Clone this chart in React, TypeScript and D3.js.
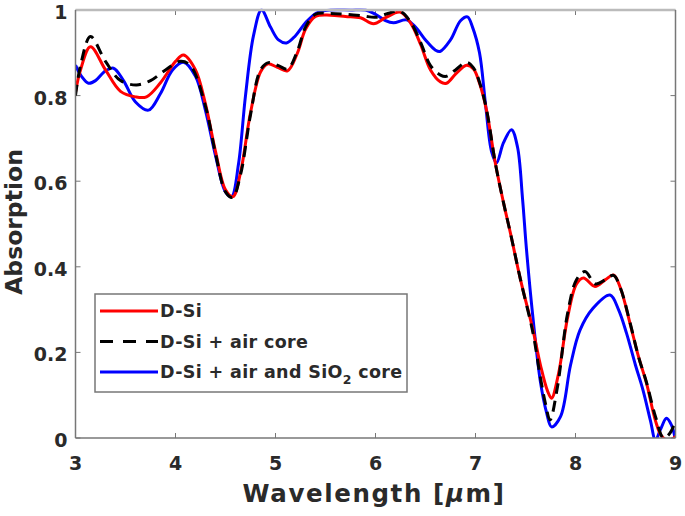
import React from "react";
import * as d3 from "d3";

const xTicks = [3, 4, 5, 6, 7, 8, 9];
const yTicks = [0, 0.2, 0.4, 0.6, 0.8, 1];
const yTickLabels = ["0", "0.2", "0.4", "0.6", "0.8", "1"];

const redX = [3.0, 3.05, 3.15, 3.3, 3.45, 3.6, 3.71, 3.85, 4.0, 4.08, 4.2, 4.3, 4.4, 4.5, 4.575, 4.65, 4.75, 4.85, 4.92, 5.02, 5.12, 5.22, 5.3, 5.4, 5.55, 5.7, 5.85, 5.98, 6.1, 6.245, 6.35, 6.45, 6.55, 6.65, 6.71, 6.8, 6.91, 6.98, 7.045, 7.11, 7.2, 7.28, 7.35, 7.45, 7.575, 7.65, 7.72, 7.76, 7.83, 7.92, 8.01, 8.08, 8.195, 8.3, 8.38, 8.45, 8.545, 8.63, 8.71, 8.8, 8.86, 8.93, 9.0];
const redY = [0.808, 0.86, 0.914, 0.86, 0.81, 0.797, 0.797, 0.83, 0.88, 0.895, 0.86, 0.78, 0.67, 0.58, 0.564, 0.62, 0.76, 0.855, 0.874, 0.866, 0.858, 0.9, 0.955, 0.985, 0.988, 0.985, 0.982, 0.968, 0.982, 0.995, 0.97, 0.92, 0.86, 0.832, 0.829, 0.85, 0.871, 0.862, 0.825, 0.766, 0.64, 0.55, 0.478, 0.37, 0.252, 0.17, 0.11, 0.093, 0.15, 0.28, 0.36, 0.374, 0.354, 0.37, 0.381, 0.35, 0.268, 0.19, 0.128, 0.04, 0.005, -0.006, 0.004];

const blackX = [3.0, 3.05, 3.15, 3.3, 3.45, 3.61, 3.75, 3.9, 4.05, 4.15, 4.3, 4.4, 4.5, 4.57, 4.65, 4.75, 4.85, 4.93, 5.03, 5.12, 5.22, 5.3, 5.4, 5.55, 5.7, 5.88, 6.0, 6.1, 6.245, 6.35, 6.45, 6.55, 6.65, 6.71, 6.8, 6.91, 6.98, 7.045, 7.11, 7.2, 7.28, 7.35, 7.45, 7.575, 7.65, 7.7, 7.745, 7.82, 7.92, 8.01, 8.095, 8.2, 8.3, 8.38, 8.45, 8.545, 8.63, 8.71, 8.8, 8.88, 8.94, 9.0];
const blackY = [0.8, 0.87, 0.938, 0.88, 0.835, 0.825, 0.835, 0.86, 0.88, 0.87, 0.775, 0.665, 0.575, 0.562, 0.615, 0.755, 0.86, 0.877, 0.87, 0.862, 0.905, 0.96, 0.99, 0.992, 0.99, 0.986, 0.983, 0.99, 0.997, 0.972, 0.925, 0.87, 0.848, 0.845, 0.86, 0.878, 0.865, 0.828, 0.768, 0.64, 0.55, 0.478, 0.37, 0.245, 0.14, 0.08, 0.042, 0.12, 0.29, 0.37, 0.389, 0.36, 0.37, 0.38, 0.35, 0.27, 0.19, 0.13, 0.05, 0.0, 0.01, 0.038];

const blueX = [3.0, 3.06, 3.13, 3.2, 3.3, 3.38, 3.48, 3.6, 3.73, 3.85, 3.97, 4.08, 4.2, 4.3, 4.4, 4.5, 4.56, 4.63, 4.7, 4.78, 4.86, 4.95, 5.03, 5.11, 5.2, 5.3, 5.41, 5.55, 5.75, 5.9, 6.0, 6.1, 6.18, 6.31, 6.4, 6.5, 6.6, 6.645, 6.75, 6.85, 6.92, 6.97, 7.04, 7.1, 7.16, 7.21, 7.28, 7.36, 7.42, 7.47, 7.51, 7.575, 7.65, 7.71, 7.76, 7.85, 7.95, 8.045, 8.175, 8.345, 8.43, 8.51, 8.6, 8.675, 8.75, 8.8, 8.85, 8.91, 8.96, 9.0];
const blueY = [0.871, 0.845, 0.829, 0.835, 0.858, 0.864, 0.835, 0.785, 0.766, 0.805, 0.86, 0.878, 0.845, 0.765, 0.66, 0.575, 0.564, 0.64, 0.8, 0.94, 1.0, 0.96, 0.93, 0.923, 0.94, 0.97, 0.993, 1.0, 1.0, 1.0, 0.99, 0.975, 0.97, 0.977, 0.96, 0.93, 0.906, 0.903, 0.93, 0.975, 0.984, 0.96, 0.9, 0.78, 0.67, 0.643, 0.69, 0.72, 0.68, 0.56, 0.44, 0.28, 0.13, 0.06, 0.026, 0.05, 0.17, 0.252, 0.303, 0.334, 0.3, 0.245, 0.17, 0.112, 0.04, -0.005, 0.02, 0.046, 0.03, -0.005];

const seriesNames = ["D-Si", "D-Si + air core", "D-Si + air and SiO"];

const W = 685;
const H = 516;
const M = { left: 75.5, right: 675.5, top: 10, bottom: 438 };

export default function App() {
  const x = d3.scaleLinear().domain([3, 9]).range([M.left, M.right]);
  const y = d3.scaleLinear().domain([0, 1]).range([M.bottom, M.top]);
  const line = d3
    .line<[number, number]>()
    .x((d) => x(d[0]))
    .y((d) => y(d[1]))
    .curve(d3.curveCatmullRom.alpha(0.5));
  const zip = (a: number[], b: number[]) => a.map((v, i) => [v, b[i]] as [number, number]);
  const red = line(zip(redX, redY)) || "";
  const black = line(zip(blackX, blackY)) || "";
  const blue = line(zip(blueX, blueY)) || "";
  const font = "'DejaVu Sans', Arial, Helvetica, sans-serif";
  const axisColor = "#777";
  const textColor = "#2a2a2a";
  const tickLen = 5;

  const legX = 95;
  const legY = 294;
  const legW = 312;
  const legH = 98;
  const rows = [311, 341.5, 372];

  return (
    <svg
      width={W}
      height={H}
      style={{ position: "absolute", left: 0, top: 0, background: "#fff" }}
      fontFamily={font}
    >
      <defs>
        <clipPath id="plotclip">
          <rect x={M.left} y={M.top - 1.5} width={M.right - M.left} height={M.bottom - M.top + 1.5} />
        </clipPath>
      </defs>
      <rect x={0} y={0} width={W} height={H} fill="#fff" />

      {/* ticks */}
      {xTicks.map((t) => (
        <g key={"xt" + t}>
          <line x1={x(t)} x2={x(t)} y1={M.bottom} y2={M.bottom - tickLen} stroke={axisColor} strokeWidth={1} />
          <line x1={x(t)} x2={x(t)} y1={M.top} y2={M.top + tickLen} stroke={axisColor} strokeWidth={1} />
          <text x={x(t)} y={M.bottom + 32} textAnchor="middle" fontSize={19} fontWeight="bold" fill={textColor}>
            {t}
          </text>
        </g>
      ))}
      {yTicks.map((t, i) => (
        <g key={"yt" + t}>
          <line x1={M.left} x2={M.left + tickLen} y1={y(t)} y2={y(t)} stroke={axisColor} strokeWidth={1} />
          <line x1={M.right} x2={M.right - tickLen} y1={y(t)} y2={y(t)} stroke={axisColor} strokeWidth={1} />
          <text x={M.left - 8} y={y(t) + 9} textAnchor="end" fontSize={19} fontWeight="bold" fill={textColor}>
            {yTickLabels[i]}
          </text>
        </g>
      ))}

      {/* curves */}
      <g clipPath="url(#plotclip)" fill="none" strokeLinejoin="round">
        <path d={blue} stroke="#0000ff" strokeWidth={3} />
        <path d={red} stroke="#ff0000" strokeWidth={3} />
        <path d={black} stroke="#000" strokeWidth={3} strokeDasharray="11,7" />
      </g>

      {/* axes box */}
      <line x1={M.left} x2={M.right} y1={M.top} y2={M.top} stroke="#bbb" strokeWidth={2.5} />
      <line x1={M.left} x2={M.left} y1={M.top} y2={M.bottom} stroke={axisColor} strokeWidth={1.5} />
      <line x1={M.right} x2={M.right} y1={M.top} y2={M.bottom} stroke={axisColor} strokeWidth={1.5} />
      <line x1={M.left} x2={M.right} y1={M.bottom} y2={M.bottom} stroke={axisColor} strokeWidth={1.5} />

      {/* axis labels */}
      <text x={374} y={502} textAnchor="middle" fontSize={24.5} fontWeight="bold" fill={textColor} letterSpacing={1.6}>
        Wavelength [<tspan fontStyle="italic">μ</tspan>m]
      </text>
      <text
        transform={`translate(22, 222) rotate(-90)`}
        textAnchor="middle"
        fontSize={23.5}
        fontWeight="bold"
        fill={textColor}
      >
        Absorption
      </text>

      {/* legend */}
      <rect x={legX} y={legY} width={legW} height={legH} fill="#fff" stroke={axisColor} strokeWidth={1.5} />
      <line x1={100} x2={158} y1={rows[0]} y2={rows[0]} stroke="#ff0000" strokeWidth={3} />
      <line x1={100} x2={158} y1={rows[1]} y2={rows[1]} stroke="#000" strokeWidth={3} strokeDasharray="13,10" />
      <line x1={100} x2={158} y1={rows[2]} y2={rows[2]} stroke="#0000ff" strokeWidth={3} />
      <text x={160} y={rows[0] + 6} fontSize={17.5} fontWeight="bold" fill={textColor} letterSpacing={0.35}>
        {seriesNames[0]}
      </text>
      <text x={160} y={rows[1] + 6} fontSize={17.5} fontWeight="bold" fill={textColor} letterSpacing={0.35}>
        {seriesNames[1]}
      </text>
      <text x={160} y={rows[2] + 6} fontSize={17.5} fontWeight="bold" fill={textColor} letterSpacing={0.35}>
        {seriesNames[2]}
        <tspan fontSize={12.5} dy={6}>2</tspan>
        <tspan dy={-6}> core</tspan>
      </text>
    </svg>
  );
}
